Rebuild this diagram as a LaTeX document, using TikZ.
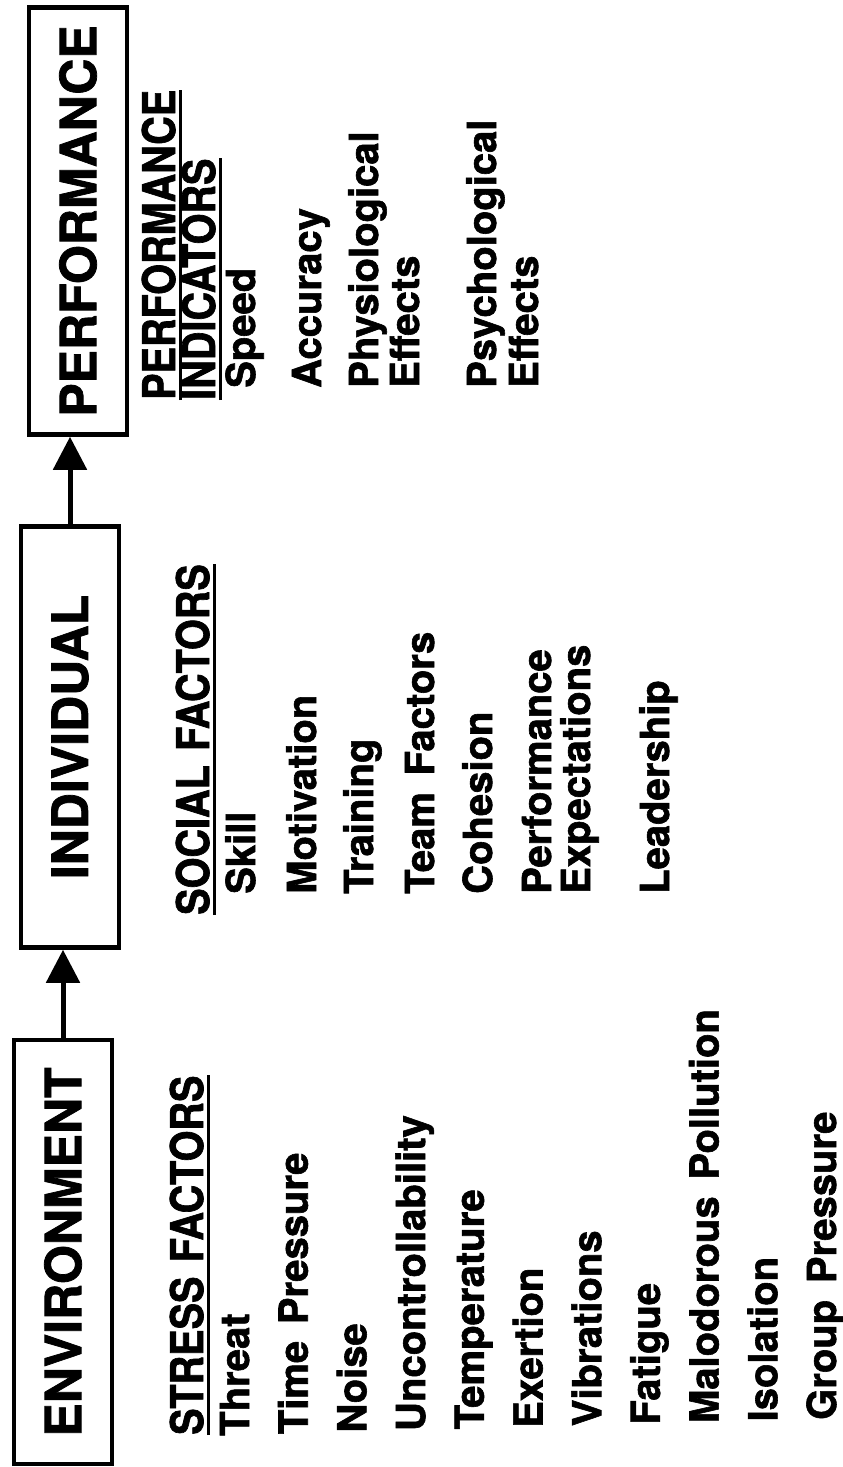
\documentclass[tikz,border=0pt]{standalone}
\usepackage{fontspec}
\setmainfont{TeX Gyre Heros}[WordSpace=1.5, BoldFeatures={FakeBold=1.5}]
\newfontfamily\headfont{TeX Gyre Heros}[FakeStretch=0.88, WordSpace=1.3,
  BoldFeatures={FakeBold=1.5}]
\usetikzlibrary{positioning, arrows.meta, calc}

\begin{document}
\begin{tikzpicture}[x=1pt, y=-1pt,
    stage/.style={draw, line width=4.5pt, rotate=90, minimum height=98pt,
      inner sep=0pt, font=\fontsize{50}{50}\selectfont\bfseries},
    hdr/.style={rotate=90, anchor=base west, inner sep=0pt,
      font=\headfont\fontsize{45}{45}\selectfont\bfseries},
    entry/.style={rotate=90, anchor=base west, inner sep=0pt,
      font=\fontsize{40}{40}\selectfont\bfseries},
    uline/.style={line width=3pt},
    flow/.style={line width=5pt, -{Triangle[width=33pt, length=33pt]}}]
  \useasboundingbox (0,0) rectangle (843,1467);

  \node[stage, minimum width=424pt] (env)  at (63,1252) {ENVIRONMENT};
  \node[stage, minimum width=421pt] (ind)  at (70,737)  {INDIVIDUAL};
  \node[stage, minimum width=427pt] (perf) at (78,221)  {PERFORMANCE};
  \draw[flow] (env.east) -- (env.east |- ind.west);
  \draw[flow] (ind.east) -- (ind.east |- perf.west);

  \node[hdr] (stress) at (203,1435) {STRESS FACTORS};
  \node[hdr] (social) at (209,915)  {SOCIAL FACTORS};
  \node[hdr] (ind1)   at (175,400)  {PERFORMANCE};
  \node[hdr] (ind2)   at (215,400)  {INDICATORS};
  \foreach \name in {stress, social, ind1, ind2}{
    \draw[uline] ($(\name.base west)+(5,0)$) -- ($(\name.base east)+(5,0)$);
  }

  \foreach \k/\txt in
    {0/Threat, 1/Time Pressure, 2/Noise, 3/Uncontrollability,
     4/Temperature, 5/Exertion, 6/Vibrations, 7/Fatigue,
     8/Malodorous Pollution, 9/Isolation, 10/Group Pressure}{
    \node[entry] (sf\k) at ({249+58.7*\k}, {1436-1.6*\k}) {\txt};
  }
  \foreach \x/\txt/\name in
    {255/Skill/skill, 316/Motivation/motiv, 373/Training/train,
     434/Team Factors/team, 492/Cohesion/cohes, 551/Performance/expa,
     590/Expectations/expb, 669/Leadership/lead}{
    \node[entry] (\name) at (\x,894) {\txt};
  }
  \foreach \x/\txt/\name in
    {255/Speed/speed, 321/Accuracy/acc, 378/Physiological/physa,
     419/Effects/physb, 496/Psychological/psya, 538/Effects/psyb}{
    \node[entry] (\name) at (\x,388) {\txt};
  }
\end{tikzpicture}
\end{document}
